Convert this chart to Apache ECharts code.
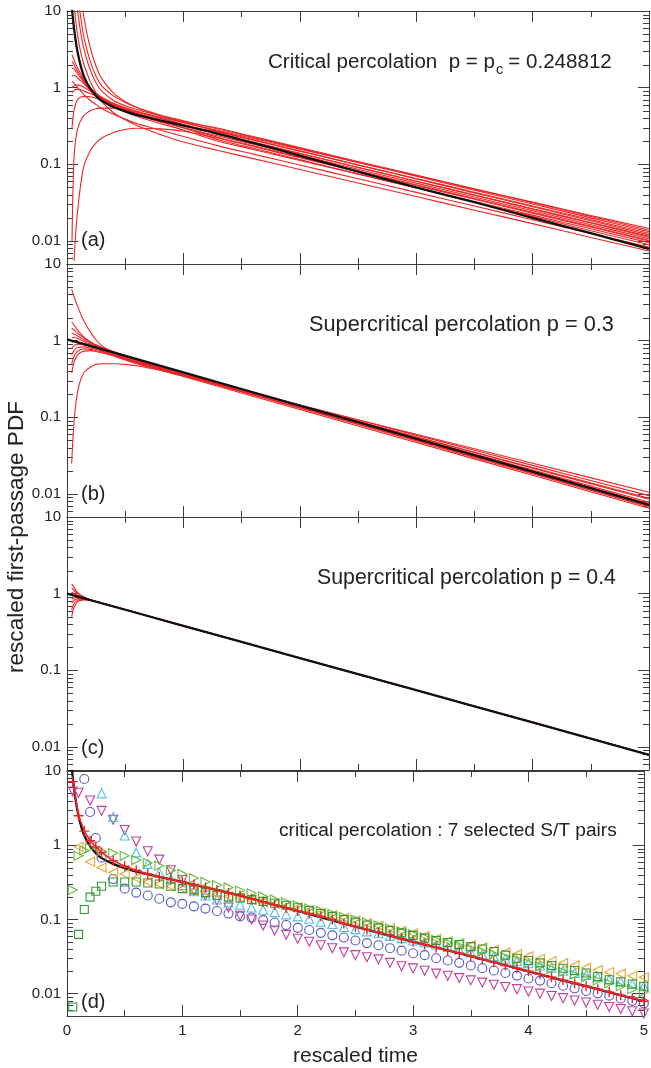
<!DOCTYPE html>
<html><head><meta charset="utf-8">
<script src="https://cdn.jsdelivr.net/npm/echarts@6/dist/echarts.min.js"></script>
<style>html,body{margin:0;padding:0;background:#fff}#c{width:651px;height:1068px}</style>
</head><body><div id="c"></div>
<script>
// ---------- DATA ----------
// tick labels
const xTickLabels = ['0','1','2','3','4','5'];
const yMinorValues = [0.006,0.007,0.008,0.009,0.02,0.03,0.04,0.05,0.06,0.07,0.08,0.09,0.2,0.3,0.4,0.5,0.6,0.7,0.8,0.9,2,3,4,5,6,7,8,9];

// panel (a): critical percolation
const tA = [0.043,0.06,0.08,0.1,0.125,0.15,0.2,0.25,0.3,0.4,0.5,0.6,0.8,1.0,1.3,1.6,2.0,2.5,3.0,3.5,4.0,4.5,5.0];
const blackCrit = [10.5,6.0,3.6,2.5,1.75,1.35,0.97,0.78,0.67,0.56,0.49,0.44,0.375,0.32,0.25,0.19,0.13,0.08,0.05,0.032,0.02,0.0126,0.0079];
const redA1 = [null,null,14,8,4.5,3.0,1.7,1.15,0.9,0.68,0.58,0.52,0.43,0.36,0.295,0.230,0.165,0.109,0.0723,0.0478,0.0316,0.0209,0.0138];
const redA2 = [null,null,null,13,7,4.2,2.2,1.4,1.05,0.78,0.64,0.55,0.44,0.37,0.288,0.2245,0.1609,0.106,0.0699,0.046,0.0304,0.02,0.0132];
const redA3 = [null,null,null,null,14,7.5,3.3,1.9,1.3,0.85,0.66,0.55,0.43,0.35,0.269,0.2092,0.1495,0.0982,0.0645,0.0424,0.0279,0.0183,0.012];
const redA4 = [2.7,2.3,1.95,1.7,1.45,1.25,1.0,0.85,0.75,0.62,0.54,0.48,0.40,0.33,0.251,0.1952,0.1395,0.0917,0.0602,0.0396,0.026,0.0171,0.0112];
const redA5 = [2.2,2.0,1.75,1.55,1.35,1.2,0.98,0.83,0.72,0.58,0.5,0.44,0.36,0.30,0.224,0.1743,0.1249,0.0823,0.0542,0.0357,0.0236,0.0155,0.0102];
const redA6 = [1.8,1.75,1.6,1.45,1.3,1.15,0.95,0.8,0.7,0.57,0.48,0.42,0.34,0.28,0.2,0.1559,0.1123,0.0744,0.0494,0.0327,0.0217,0.0144,0.0095];
const redA7 = [1.4,1.45,1.4,1.3,1.2,1.1,0.93,0.8,0.7,0.58,0.5,0.44,0.36,0.3,0.234,0.1825,0.1308,0.0862,0.0568,0.0374,0.0247,0.0163,0.0107];
const redA8 = [1.0,1.05,1.08,1.08,1.05,1.0,0.9,0.8,0.72,0.6,0.52,0.46,0.38,0.32,0.263,0.2056,0.148,0.0981,0.0651,0.0432,0.0286,0.019,0.0126];
const redA9 = [0.85,0.92,0.95,0.95,0.93,0.9,0.84,0.78,0.72,0.62,0.55,0.49,0.41,0.35,0.275,0.2169,0.1577,0.1059,0.0711,0.0477,0.0321,0.0215,0.0145];
const redA10 = [0.3,0.5,0.65,0.72,0.76,0.77,0.76,0.73,0.69,0.6,0.52,0.46,0.37,0.3,0.209,0.1618,0.115,0.0751,0.049,0.032,0.0209,0.0136,0.0089];
const redA11 = [0.01,0.12,0.24,0.32,0.39,0.44,0.5,0.53,0.54,0.54,0.52,0.48,0.4,0.33,0.245,0.1915,0.1375,0.0909,0.0601,0.0397,0.0263,0.0174,0.0115];
const redA12 = [null,0.0055,0.016,0.033,0.065,0.1,0.15,0.19,0.22,0.26,0.285,0.295,0.29,0.27,0.219,0.1703,0.1221,0.0804,0.053,0.0349,0.023,0.0152,0.01];
const redA13 = [null,12,6.5,4.0,2.6,1.9,1.2,0.85,0.65,0.47,0.38,0.32,0.245,0.195,0.151,0.1185,0.0855,0.0569,0.0379,0.0252,0.0168,0.0111,0.0074];
const redA14 = [1.2,1.15,1.05,0.97,0.88,0.8,0.68,0.6,0.53,0.45,0.39,0.34,0.28,0.23,0.174,0.1358,0.0978,0.0648,0.043,0.0285,0.0189,0.0125,0.0083];

// panel (b): p = 0.3
const tB = [0.04,0.06,0.08,0.1,0.125,0.15,0.2,0.25,0.3,0.4,0.5,0.6,0.8,1.0,1.5,2,3,4,5];
const tLine = [0,1,2,3,4,5];
const blackB = [1.04,0.385,0.142,0.0525,0.0195,0.0072];
const redB1 = [4.7,3.8,3.1,2.6,2.1,1.75,1.3,1.02,0.86,0.7,0.62,0.56,0.46,0.385,0.2325,0.1404,0.0512,0.01865,0.0068];
const redB2 = [1.75,1.6,1.45,1.32,1.2,1.1,0.97,0.88,0.82,0.72,0.64,0.57,0.46,0.38,0.2314,0.141,0.0523,0.0194,0.0072];
const redB3 = [1.45,1.38,1.3,1.22,1.14,1.07,0.96,0.88,0.81,0.71,0.63,0.56,0.45,0.37,0.2284,0.141,0.0537,0.0205,0.0078];
const redB4 = [1.25,1.22,1.18,1.13,1.07,1.02,0.93,0.86,0.8,0.7,0.62,0.55,0.44,0.36,0.2254,0.1411,0.0553,0.0217,0.0085];
const redB5 = [1.1,1.1,1.08,1.05,1.01,0.97,0.9,0.84,0.78,0.69,0.61,0.54,0.44,0.36,0.2286,0.145,0.0585,0.0236,0.0095];
const redB6 = [0.95,0.97,0.97,0.96,0.94,0.92,0.87,0.82,0.77,0.68,0.6,0.53,0.43,0.355,0.2165,0.132,0.0491,0.0183,0.0068];
const redB7 = [0.8,0.86,0.89,0.9,0.89,0.88,0.84,0.79,0.75,0.67,0.59,0.53,0.43,0.355,0.2192,0.1353,0.0516,0.0197,0.0075];
const redB8 = [0.65,0.74,0.8,0.82,0.83,0.83,0.8,0.77,0.73,0.65,0.58,0.52,0.42,0.35,0.2209,0.1394,0.0555,0.0221,0.0088];
const redB9 = [0.5,0.62,0.7,0.74,0.77,0.78,0.77,0.74,0.71,0.64,0.57,0.51,0.42,0.345,0.2229,0.144,0.0602,0.0251,0.0105];
const redB10 = [0.38,0.52,0.61,0.67,0.71,0.73,0.74,0.72,0.69,0.63,0.56,0.5,0.41,0.34,0.2073,0.1264,0.047,0.0175,0.0065];
const redB11 = [0.025,0.085,0.17,0.25,0.33,0.39,0.45,0.49,0.5,0.5,0.49,0.47,0.41,0.35,0.2154,0.1325,0.0502,0.019,0.0072];

// panel (c): p = 0.4
const tC = [0.04,0.06,0.08,0.1,0.125,0.15,0.2,0.3,0.5,1,2,3,4,5];
const blackC = [1.0,0.38,0.1445,0.055,0.0209,0.0079];
const redC1 = [1.35,1.2,1.08,1.0,0.94,0.9,0.83,0.75,0.62,0.38,0.1445,0.055,0.0209,0.0079];
const redC2 = [1.18,1.1,1.03,0.98,0.93,0.89,0.83,0.75,0.62,0.38,0.1445,0.055,0.0209,0.0079];
const redC3 = [1.05,1.0,0.97,0.94,0.91,0.88,0.83,0.75,0.62,0.38,0.1445,0.055,0.0209,0.0079];
const redC4 = [0.95,0.94,0.93,0.91,0.89,0.87,0.82,0.75,0.62,0.38,0.1445,0.055,0.0209,0.0079];
const redC5 = [0.85,0.88,0.89,0.89,0.88,0.86,0.82,0.75,0.62,0.38,0.1445,0.055,0.0209,0.0079];
const redC6 = [0.75,0.82,0.85,0.86,0.86,0.85,0.82,0.75,0.62,0.38,0.1445,0.055,0.0209,0.0079];
const redC7 = [0.62,0.74,0.8,0.83,0.84,0.84,0.82,0.75,0.62,0.38,0.1445,0.055,0.0209,0.0079];
const redC8 = [0.5,0.66,0.75,0.8,0.82,0.83,0.82,0.75,0.62,0.38,0.1445,0.055,0.0209,0.0079];

// panel (d): 7 selected S/T pairs
const tD = [0.05,0.1,0.15,0.2,0.25,0.3,0.4,0.5,0.6,0.7,0.8,0.9,1.0,1.1,1.2,1.3,1.4,1.5,1.6,1.7,1.8,1.9,2.0,2.1,2.2,2.3,2.4,2.5,2.6,2.7,2.8,2.9,3.0,3.1,3.2,3.3,3.4,3.5,3.6,3.7,3.8,3.9,4.0,4.1,4.2,4.3,4.4,4.5,4.6,4.7,4.8,4.9,5.0];
const pairCircle = [null,null,7.8,2.8,1.25,0.68,0.35,0.26,0.23,0.21,0.19,0.17,0.162,0.15,0.14,0.13,0.12,0.11,0.106,0.098,0.091,0.084,0.077,0.072,0.066,0.061,0.057,0.052,0.048,0.045,0.041,0.038,0.035,0.033,0.030,0.028,0.026,0.024,0.022,0.0205,0.019,0.0175,0.016,0.015,0.0138,0.0128,0.0118,0.0109,0.0101,0.0094,0.0086,0.008,0.0074];
const pairDown = [5.3,5.1,null,4.0,null,2.9,2.2,1.6,1.12,0.83,0.64,0.46,0.34,0.245,0.21,0.18,0.145,0.112,0.1,0.083,0.071,0.062,0.055,0.05,0.045,0.041,0.036,0.033,0.031,0.029,0.026,0.0234,0.0219,0.0204,0.0186,0.0174,0.0162,0.0151,0.0141,0.0132,0.0123,0.0115,0.0107,0.01,0.0093,0.0087,0.0081,0.0076,0.0071,0.0066,0.0062,0.0058,0.0054];
const pairUp = [null,null,null,null,null,5.0,2.4,1.35,0.8,0.56,0.43,0.35,0.29,0.24,0.21,0.186,0.17,0.158,0.145,0.135,0.126,0.117,0.11,0.102,0.093,0.087,0.079,0.074,0.069,0.065,0.06,0.056,0.052,0.049,0.046,0.043,0.039,0.036,0.034,0.032,0.0295,0.0275,0.0257,0.024,0.0224,0.0204,0.019,0.0178,0.0166,0.0155,0.0145,0.0135,0.0126];
const pairLeft = [null,0.95,null,0.6,null,0.5,0.43,0.41,0.36,0.32,0.30,0.28,0.26,0.245,0.234,0.219,0.204,0.195,0.182,0.17,0.162,0.151,0.145,0.133,0.123,0.114,0.105,0.097,0.089,0.082,0.076,0.07,0.065,0.06,0.055,0.051,0.048,0.045,0.042,0.039,0.036,0.034,0.032,0.0295,0.0275,0.0257,0.024,0.0224,0.0209,0.0195,0.0186,0.0174,0.0166];
const pairRight = [0.25,0.72,0.85,0.92,null,0.83,0.78,0.72,0.63,0.58,0.53,0.46,0.41,0.36,0.32,0.29,0.27,0.245,0.225,0.204,0.186,0.17,0.155,0.141,0.13,0.119,0.108,0.1,0.091,0.083,0.076,0.069,0.063,0.0575,0.053,0.0484,0.0442,0.0407,0.0372,0.0339,0.0309,0.0282,0.0257,0.0234,0.0216,0.0197,0.018,0.0166,0.0151,0.0138,0.0126,0.0115,0.0105];
const pairSquare = [0.0066,0.063,0.136,0.2,0.24,0.28,0.32,0.32,0.32,0.31,0.30,0.28,0.26,0.25,0.23,0.21,0.2,0.195,0.185,0.175,0.165,0.155,0.144,0.132,0.12,0.11,0.1,0.092,0.084,0.077,0.071,0.066,0.061,0.056,0.052,0.049,0.046,0.043,0.04,0.037,0.033,0.030,0.028,0.026,0.024,0.022,0.0205,0.019,0.017,0.0154,0.0145,0.0135,0.0126];
const pairCross = [7.2,2.5,1.55,1.15,0.95,0.8,0.62,0.52,0.46,0.41,0.375,0.345,0.32,0.295,0.272,0.25,0.228,0.21,0.19,0.173,0.157,0.143,0.13,0.12,0.11,0.1,0.088,0.08,0.073,0.067,0.061,0.055,0.05,0.046,0.042,0.038,0.035,0.032,0.029,0.0265,0.024,0.022,0.02,0.0182,0.0166,0.0152,0.0138,0.0126,0.0115,0.0105,0.0095,0.0087,0.0079];

// ---------- CHART ----------
const FONT = '"Liberation Sans", Arial, Helvetica, sans-serif';
const AX = '#3c3c3c';
const RED = '#ee2424';
const BLACK = '#111111';
const gridTops = [11, 264, 517, 771];
const GH = 253;

const chart = echarts.init(document.getElementById('c'), null, {renderer: 'canvas'});

const grids = gridTops.map(t => ({left: 67, right: 2, top: t, height: GH}));
const xAxes = [], yAxes = [];
for (let i = 0; i < 4; i++) {
  const common = {
    gridIndex: i, type: 'value', min: 0, max: 5, interval: 1,
    axisLine: {show: true, onZero: false, lineStyle: {color: AX, width: 1}},
    axisTick: {show: true, inside: true, length: 11, lineStyle: {color: AX, width: 1}},
    minorTick: {show: true, splitNumber: 2, length: 6, lineStyle: {color: AX, width: 1}},
    splitLine: {show: false}, minorSplitLine: {show: false}
  };
  xAxes.push(Object.assign({}, common, {
    position: 'bottom',
    axisLabel: {show: i === 3, fontFamily: FONT, fontSize: 15, color: '#222', margin: 7,
      formatter: v => xTickLabels[Math.round(v)]},
    name: i === 3 ? 'rescaled time' : '', nameLocation: 'middle', nameGap: 30,
    nameTextStyle: {fontFamily: FONT, fontSize: 21, color: '#222'}
  }));
  xAxes.push(Object.assign({}, common, {position: 'top', axisLabel: {show: false}}));
  const ycommon = {
    gridIndex: i, type: 'log', logBase: 10, min: 0.005, max: 10, splitNumber: 3,
    axisLine: {show: true, onZero: false, lineStyle: {color: AX, width: 1}},
    axisTick: {show: true, inside: true, length: 11, lineStyle: {color: AX, width: 1}},
    splitLine: {show: false}, minorTick: {show: false}
  };
  yAxes.push(Object.assign({}, ycommon, {
    position: 'left',
    axisLabel: {show: true, fontFamily: FONT, fontSize: 15, color: '#222', margin: 6,
      showMinLabel: false, showMaxLabel: true,
      formatter: v => String(parseFloat(Number(v).toPrecision(3)))}
  }));
  yAxes.push(Object.assign({}, ycommon, {position: 'right', axisLabel: {show: false}}));
}

const series = [];
function line(gi, xs, ys, color, width, z) {
  series.push({
    type: 'line', xAxisIndex: 2 * gi, yAxisIndex: 2 * gi,
    data: xs.map((x, k) => [x, ys[k]]).filter(p => p[1] != null),
    symbol: 'none', showSymbol: false, smooth: 0.35, clip: true,
    lineStyle: {color: color, width: width}, z: z, silent: true, animation: false
  });
}
function minorTicks(gi) {
  series.push({
    type: 'custom', xAxisIndex: 2 * gi, yAxisIndex: 2 * gi, silent: true, animation: false, z: 1,
    data: yMinorValues.map(v => [0, v]), encode: {x: 0, y: 1},
    renderItem: (params, api) => {
      const v = api.value(1);
      const L = api.coord([0, v]);
      const R = api.coord([5, v]);
      const y = Math.round(L[1]) + 0.5;
      return {type: 'group', children: [
        {type: 'line', shape: {x1: L[0], y1: y, x2: L[0] + 6, y2: y}, style: {stroke: AX, lineWidth: 1}},
        {type: 'line', shape: {x1: R[0] - 6, y1: y, x2: R[0], y2: y}, style: {stroke: AX, lineWidth: 1}}
      ]};
    }
  });
}
for (let i = 0; i < 4; i++) minorTicks(i);

// (a)
[redA1, redA2, redA3, redA4, redA5, redA6, redA7, redA8, redA9, redA10, redA11, redA12, redA13, redA14]
  .forEach(r => line(0, tA, r, RED, 1.1, 2));
line(0, tA, blackCrit, BLACK, 2.3, 5);
// (b)
[redB1, redB2, redB3, redB4, redB5, redB6, redB7, redB8, redB9, redB10, redB11]
  .forEach(r => line(1, tB, r, RED, 1.1, 2));
line(1, tLine, blackB, BLACK, 2.3, 5);
// (c)
[redC1, redC2, redC3, redC4, redC5, redC6, redC7, redC8]
  .forEach(r => line(2, tC, r, RED, 1.1, 2));
line(2, tLine, blackC, BLACK, 2.3, 5);
// (d)
line(3, tA, blackCrit, BLACK, 2.3, 3);
function markers(ys, symbol, rot, size, color) {
  series.push({
    type: 'scatter', xAxisIndex: 6, yAxisIndex: 6,
    data: tD.map((x, k) => [x, ys[k]]).filter(p => p[1] != null),
    symbol: symbol, symbolRotate: rot, symbolSize: size, clip: true,
    itemStyle: {color: 'rgba(0,0,0,0)', borderColor: color, borderWidth: 1.1, opacity: 1},
    z: 4, silent: true, animation: false
  });
}
markers(pairCircle, 'circle', 0, 9, '#5656c6');
markers(pairDown, 'triangle', 180, 9, '#c23f9c');
markers(pairUp, 'triangle', 0, 9, '#4cc2e2');
markers(pairLeft, 'triangle', 90, 9, '#f2a12a');
markers(pairRight, 'triangle', -90, 9, '#62b83a');
markers(pairSquare, 'rect', 0, 8, '#2f9a35');
series.push({
  type: 'line', xAxisIndex: 6, yAxisIndex: 6,
  data: tD.map((x, k) => [x, pairCross[k]]),
  symbol: 'path://M5,0L5,10M0,5L10,5', symbolSize: 10, showSymbol: true, showAllSymbol: true,
  itemStyle: {color: 'rgba(0,0,0,0)', borderColor: RED, borderWidth: 1.4},
  lineStyle: {color: RED, width: 1.6}, clip: true, z: 6, silent: true, animation: false
});

// ---------- TEXT (sizes fitted to the widths seen in the reference) ----------
const mctx = document.createElement('canvas').getContext('2d');
function tw(s, size) { mctx.font = size + 'px "Liberation Sans"'; return mctx.measureText(s).width; }
function fit(s, width) { return 20 * width / tw(s, 20); }
function txt(s, x, y, size, align) {
  return {type: 'text', x: x, y: y, silent: true,
    style: {text: s, font: size + 'px ' + FONT, fill: '#222', align: align || 'left', verticalAlign: 'middle'}};
}
// (a) title with subscript
const tA1 = 'Critical percolation  p = p';
const tA3 = '= 0.248812';
const unitW = (tw(tA1, 20) + 0.7 * tw('c', 20) + tw(tA3, 20)) / 20;
const aSize = (612 - 268 - 6) / unitW;
const subX = 268 + tw(tA1, aSize) + 1;
const a3X = subX + tw('c', aSize * 0.7) + 5;

const tTitleB = 'Supercritical percolation p = 0.3';
const tTitleC = 'Supercritical percolation p = 0.4';
const tTitleD = 'critical percolation : 7 selected S/T pairs';
const bSize = fit(tTitleB, 614 - 309);
const cSize = fit(tTitleC, 616 - 317);
const dSize = fit(tTitleD, 617 - 279);
const yName = 'rescaled first-passage PDF';
const yNameSize = fit(yName, 272);

const graphics = [
  txt(tA1, 268, 62, aSize),
  txt('c', subX, 70, aSize * 0.7),
  txt(tA3, a3X, 62, aSize),
  txt(tTitleB, 309, 325, bSize),
  txt(tTitleC, 317, 578, cSize),
  txt(tTitleD, 279, 831, dSize),
  txt('(a)', 81, 240, 20),
  txt('(b)', 81, 494, 20),
  txt('(c)', 81, 748, 20),
  txt('(d)', 81, 1002, 20),
  {type: 'text', x: 17, y: 537, rotation: Math.PI / 2, silent: true,
   style: {text: yName, font: yNameSize + 'px ' + FONT, fill: '#222', align: 'center', verticalAlign: 'middle'}}
];

chart.setOption({
  animation: false,
  backgroundColor: '#ffffff',
  grid: grids,
  xAxis: xAxes,
  yAxis: yAxes,
  series: series,
  graphic: graphics
});
</script>
</body></html>
